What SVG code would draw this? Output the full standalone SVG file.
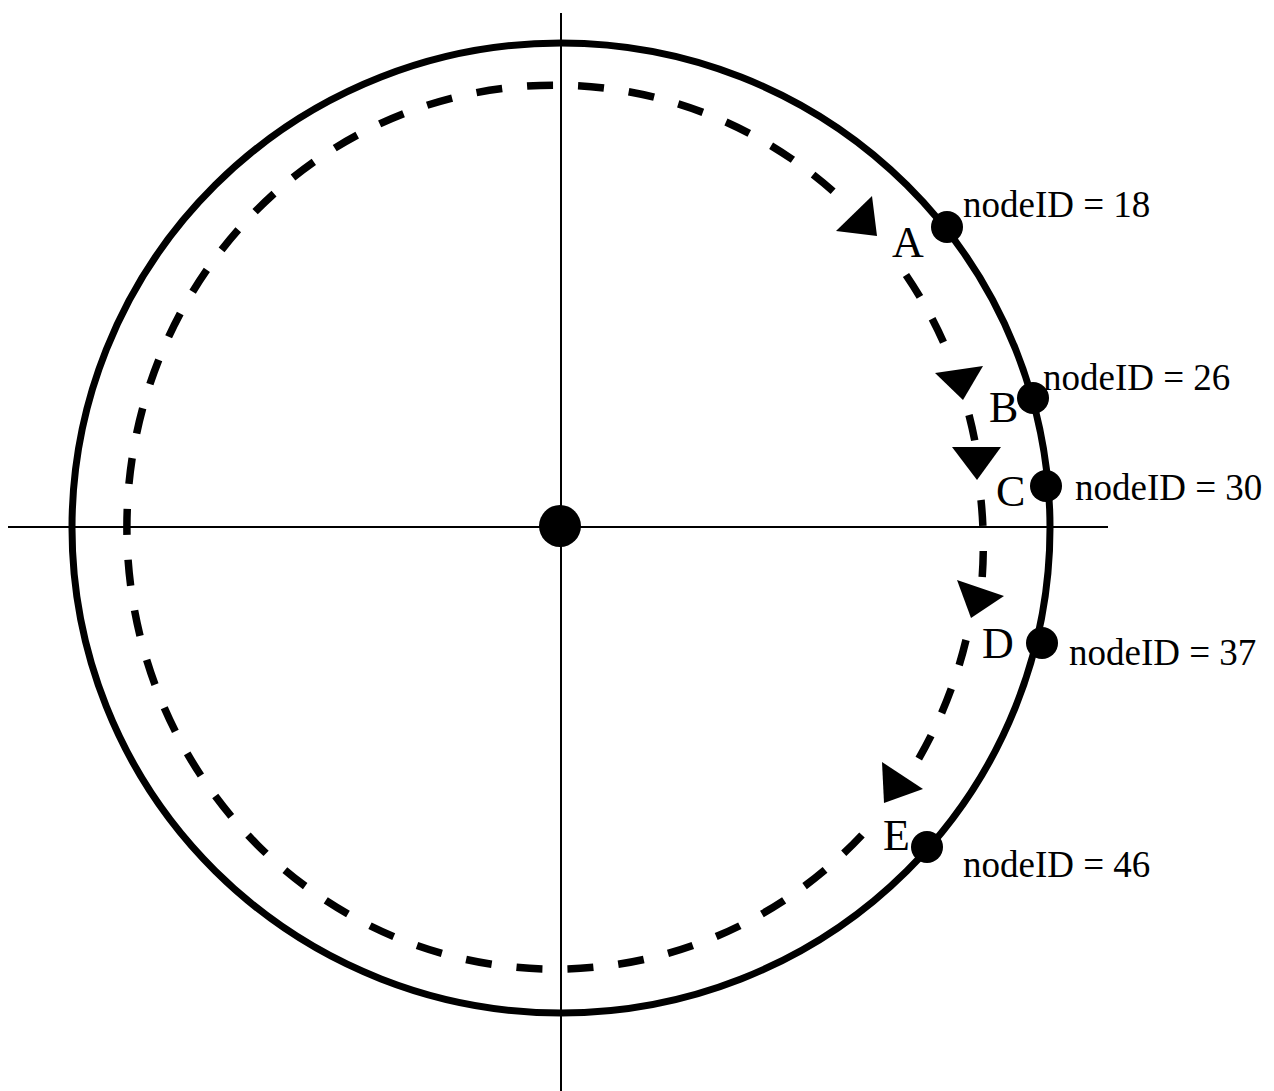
<svg xmlns="http://www.w3.org/2000/svg" width="1274" height="1091" viewBox="0 0 1274 1091">
<style>
.axis{stroke:#000;stroke-width:2;fill:none}
.ring{stroke:#000;stroke-width:7;fill:none}
.dash{stroke:#000;stroke-width:7.5;fill:none;stroke-dasharray:26 25}
.dot{fill:#000}
.arrow{fill:#000}
.lbl{font-family:"Liberation Serif","Times New Roman",serif;font-size:44px;fill:#000}
.nid{font-family:"Liberation Serif","Times New Roman",serif;font-size:37px;fill:#000}
</style>
<rect width="1274" height="1091" fill="#fff"/>
<g id="axes">
<line class="axis" x1="8" y1="527" x2="1108" y2="527"/>
<line class="axis" x1="561" y1="13" x2="561" y2="1091"/>
</g>
<g id="ring">
<ellipse class="ring" cx="561" cy="528" rx="489" ry="485"/>
</g>
<g id="connectors">
<path class="dash" d="M862 835 A428 442 0 1 1 850 207"/>
<path class="dash" d="M906 275 A428 442 0 0 1 949 355"/>
<path class="dash" d="M969 415 A428 442 0 0 1 976 447"/>
<path class="dash" d="M981 500 A428 442 0 0 1 982 580"/>
<path class="dash" d="M966 640 A428 442 0 0 1 915 765"/>
<polygon class="arrow" points="836,231 872,196 877,236"/>
<polygon class="arrow" points="935,373 983,366 963,400"/>
<polygon class="arrow" points="952,447 1001,447 977,480"/>
<polygon class="arrow" points="957,580 1004,596 971,618"/>
<polygon class="arrow" points="882,762 923,789 884,803"/>
</g>
<g id="center"><circle class="dot" cx="560" cy="526" r="21"/></g>
<g id="nodeA">
<circle class="dot" cx="947" cy="227" r="16"/>
<text class="lbl" x="892" y="257">A</text>
<text class="nid" x="963" y="217">nodeID = 18</text>
</g>
<g id="nodeB">
<circle class="dot" cx="1033" cy="398" r="16"/>
<text class="lbl" x="989" y="422">B</text>
<text class="nid" x="1043" y="390">nodeID = 26</text>
</g>
<g id="nodeC">
<circle class="dot" cx="1046" cy="486" r="16"/>
<text class="lbl" x="996" y="506">C</text>
<text class="nid" x="1075" y="500">nodeID = 30</text>
</g>
<g id="nodeD">
<circle class="dot" cx="1042" cy="643" r="16"/>
<text class="lbl" x="982" y="658">D</text>
<text class="nid" x="1069" y="665">nodeID = 37</text>
</g>
<g id="nodeE">
<circle class="dot" cx="927" cy="847" r="16"/>
<text class="lbl" x="883" y="850">E</text>
<text class="nid" x="963" y="877">nodeID = 46</text>
</g>
</svg>
